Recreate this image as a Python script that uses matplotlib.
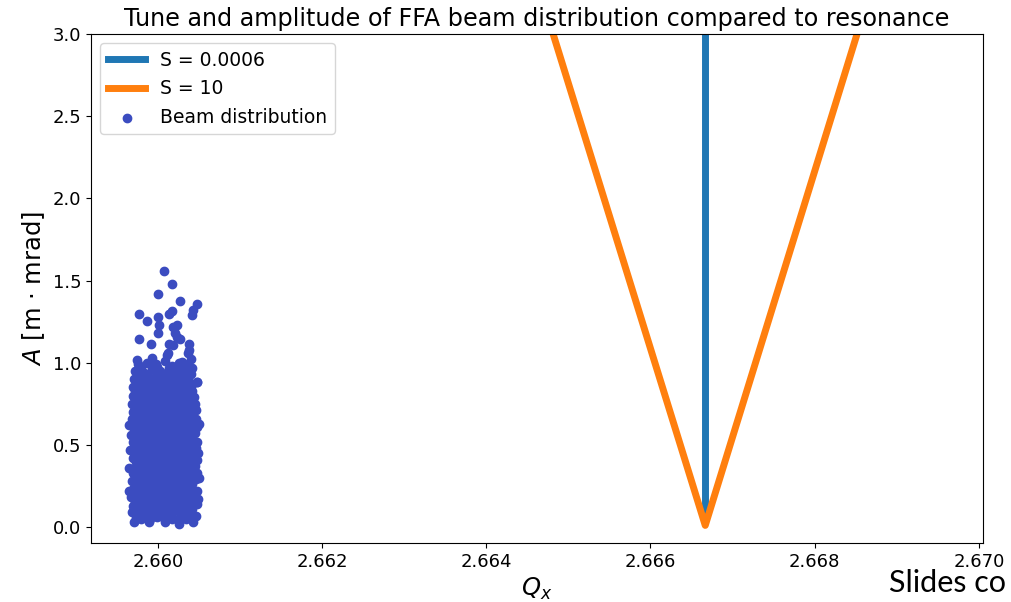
import matplotlib
matplotlib.use("Agg")
import matplotlib.pyplot as plt
from matplotlib.ticker import FormatStrFormatter, MultipleLocator

# Resonance lines (tune Q_x vs. amplitude A)
res_weak_q = [2.666667, 2.666667]
res_weak_a = [0.06, 3.2]
res_strong_q = [2.66469, 2.666667, 2.66864]
res_strong_a = [3.2, 0.01, 3.2]

# Beam particles: (Q_x, A)
beam_points = [
    (2.65971, 0.03), (2.65979, 0.05), (2.65989, 0.03), (2.65999, 0.06), (2.66008, 0.03),
    (2.66017, 0.05), (2.66026, 0.02), (2.66034, 0.05), (2.66043, 0.03),
    (2.65973, 0.055), (2.65982, 0.06), (2.65990, 0.05), (2.65998, 0.065), (2.66007, 0.055),
    (2.66015, 0.06), (2.66024, 0.05), (2.66032, 0.065), (2.66041, 0.055),
    (2.65968, 0.09), (2.65976, 0.07), (2.65985, 0.10), (2.65994, 0.08), (2.66003, 0.09),
    (2.66012, 0.07), (2.66020, 0.10), (2.66029, 0.08), (2.66038, 0.09), (2.66046, 0.07),
    (2.65973, 0.105), (2.65981, 0.11), (2.65990, 0.10), (2.65999, 0.115), (2.66007, 0.105),
    (2.66016, 0.10), (2.66024, 0.115), (2.66033, 0.105), (2.66042, 0.11),
    (2.65970, 0.13), (2.65978, 0.14), (2.65987, 0.12), (2.65995, 0.14), (2.66004, 0.13),
    (2.66013, 0.12), (2.66021, 0.14), (2.66030, 0.13), (2.66039, 0.12), (2.66047, 0.14),
    (2.65972, 0.155), (2.65981, 0.16), (2.65989, 0.15), (2.65998, 0.16), (2.66006, 0.155),
    (2.66015, 0.15), (2.66023, 0.16), (2.66032, 0.155), (2.66041, 0.15),
    (2.65967, 0.18), (2.65976, 0.17), (2.65984, 0.19), (2.65993, 0.18), (2.66002, 0.17),
    (2.66010, 0.19), (2.66019, 0.18), (2.66027, 0.17), (2.66036, 0.19), (2.66045, 0.18),
    (2.65973, 0.20), (2.65981, 0.21), (2.65990, 0.205), (2.65999, 0.20), (2.66007, 0.21),
    (2.66016, 0.205), (2.66024, 0.20), (2.66033, 0.21), (2.66042, 0.205),
    (2.65969, 0.23), (2.65977, 0.22), (2.65986, 0.24), (2.65995, 0.22), (2.66003, 0.23),
    (2.66012, 0.24), (2.66020, 0.22), (2.66029, 0.23), (2.66038, 0.24), (2.66048, 0.22),
    (2.65972, 0.255), (2.65980, 0.25), (2.65989, 0.26), (2.65998, 0.255), (2.66006, 0.25),
    (2.66015, 0.26), (2.66023, 0.255), (2.66032, 0.25), (2.66041, 0.26),
    (2.65968, 0.28), (2.65976, 0.27), (2.65985, 0.29), (2.65993, 0.27), (2.66002, 0.28),
    (2.66011, 0.29), (2.66019, 0.27), (2.66028, 0.28), (2.66037, 0.27), (2.66046, 0.29),
    (2.65973, 0.305), (2.65981, 0.30), (2.65990, 0.31), (2.65999, 0.305), (2.66007, 0.30),
    (2.66016, 0.31), (2.66024, 0.305), (2.66033, 0.30), (2.66042, 0.31),
    (2.65970, 0.33), (2.65978, 0.32), (2.65987, 0.34), (2.65996, 0.33), (2.66004, 0.32),
    (2.66013, 0.34), (2.66021, 0.33), (2.66030, 0.32), (2.66039, 0.34), (2.66047, 0.33),
    (2.65972, 0.35), (2.65980, 0.345), (2.65989, 0.355), (2.65998, 0.35), (2.66006, 0.345),
    (2.66015, 0.355), (2.66023, 0.35), (2.66032, 0.345), (2.66041, 0.355),
    (2.65965, 0.36), (2.65975, 0.38), (2.65984, 0.37), (2.65992, 0.38), (2.66001, 0.36),
    (2.66010, 0.38), (2.66018, 0.37), (2.66027, 0.36), (2.66036, 0.38), (2.66045, 0.37),
    (2.65973, 0.395), (2.65981, 0.39), (2.65990, 0.40), (2.65999, 0.395), (2.66007, 0.39),
    (2.66016, 0.40), (2.66024, 0.395), (2.66033, 0.39), (2.66042, 0.40),
    (2.65969, 0.42), (2.65977, 0.41), (2.65986, 0.43), (2.65994, 0.41), (2.66003, 0.42),
    (2.66012, 0.43), (2.66020, 0.41), (2.66029, 0.42), (2.66038, 0.43), (2.66047, 0.41),
    (2.65972, 0.445), (2.65980, 0.44), (2.65989, 0.45), (2.65998, 0.445), (2.66006, 0.44),
    (2.66015, 0.45), (2.66023, 0.445), (2.66032, 0.44), (2.66041, 0.45),
    (2.65968, 0.47), (2.65976, 0.46), (2.65985, 0.48), (2.65993, 0.46), (2.66002, 0.47),
    (2.66011, 0.48), (2.66019, 0.46), (2.66028, 0.47), (2.66037, 0.46), (2.66046, 0.48),
    (2.65973, 0.495), (2.65981, 0.49), (2.65990, 0.50), (2.65999, 0.495), (2.66007, 0.49),
    (2.66016, 0.50), (2.66024, 0.495), (2.66033, 0.49), (2.66042, 0.50),
    (2.65970, 0.52), (2.65978, 0.51), (2.65987, 0.53), (2.65996, 0.52), (2.66004, 0.51),
    (2.66013, 0.53), (2.66021, 0.52), (2.66030, 0.51), (2.66039, 0.53), (2.66047, 0.52),
    (2.65972, 0.54), (2.65980, 0.545), (2.65989, 0.535), (2.65998, 0.545), (2.66006, 0.54),
    (2.66015, 0.535), (2.66023, 0.545), (2.66032, 0.54), (2.66041, 0.535),
    (2.65967, 0.56), (2.65976, 0.57), (2.65984, 0.55), (2.65993, 0.57), (2.66002, 0.56),
    (2.66010, 0.55), (2.66019, 0.57), (2.66027, 0.56), (2.66036, 0.55), (2.66045, 0.57),
    (2.65973, 0.585), (2.65981, 0.59), (2.65990, 0.58), (2.65999, 0.59), (2.66007, 0.585),
    (2.66016, 0.58), (2.66024, 0.59), (2.66033, 0.585), (2.66042, 0.58),
    (2.65969, 0.61), (2.65977, 0.60), (2.65986, 0.62), (2.65995, 0.61), (2.66003, 0.60),
    (2.66012, 0.62), (2.66020, 0.61), (2.66029, 0.60), (2.66038, 0.62), (2.66047, 0.61),
    (2.65972, 0.635), (2.65980, 0.64), (2.65989, 0.63), (2.65998, 0.64), (2.66006, 0.635),
    (2.66015, 0.63), (2.66023, 0.64), (2.66032, 0.635), (2.66041, 0.63),
    (2.65968, 0.66), (2.65976, 0.65), (2.65985, 0.67), (2.65993, 0.66), (2.66002, 0.65),
    (2.66011, 0.67), (2.66019, 0.66), (2.66028, 0.65), (2.66037, 0.67), (2.66046, 0.66),
    (2.65973, 0.68), (2.65981, 0.685), (2.65990, 0.675), (2.65999, 0.685), (2.66007, 0.68),
    (2.66016, 0.675), (2.66024, 0.685), (2.66033, 0.68), (2.66042, 0.675),
    (2.65970, 0.70), (2.65978, 0.71), (2.65987, 0.69), (2.65996, 0.71), (2.66004, 0.70),
    (2.66013, 0.69), (2.66021, 0.71), (2.66030, 0.70), (2.66039, 0.69), (2.66046, 0.71),
    (2.65972, 0.725), (2.65980, 0.73), (2.65989, 0.72), (2.65998, 0.73), (2.66006, 0.725),
    (2.66015, 0.72), (2.66023, 0.73), (2.66032, 0.725), (2.66041, 0.72),
    (2.65968, 0.75), (2.65977, 0.74), (2.65986, 0.76), (2.65994, 0.75), (2.66003, 0.74),
    (2.66012, 0.76), (2.66020, 0.75), (2.66029, 0.74), (2.66038, 0.76), (2.66045, 0.75),
    (2.65973, 0.775), (2.65981, 0.77), (2.65990, 0.78), (2.65999, 0.775), (2.66007, 0.77),
    (2.66016, 0.78), (2.66024, 0.775), (2.66033, 0.77), (2.66042, 0.78),
    (2.65969, 0.80), (2.65978, 0.79), (2.65987, 0.81), (2.65995, 0.80), (2.66004, 0.79),
    (2.66013, 0.81), (2.66021, 0.80), (2.66030, 0.79), (2.66039, 0.81), (2.66044, 0.79),
    (2.65972, 0.825), (2.65980, 0.82), (2.65989, 0.83), (2.65998, 0.825), (2.66006, 0.82),
    (2.66015, 0.83), (2.66023, 0.825), (2.66032, 0.82), (2.66041, 0.83),
    (2.65970, 0.85), (2.65979, 0.84), (2.65988, 0.86), (2.65997, 0.85), (2.66005, 0.84),
    (2.66014, 0.86), (2.66023, 0.85), (2.66032, 0.84), (2.66040, 0.86), (2.66047, 0.88),
    (2.65973, 0.875), (2.65983, 0.87), (2.65994, 0.88), (2.66004, 0.875), (2.66013, 0.87),
    (2.66022, 0.88), (2.66031, 0.875), (2.66041, 0.87),
    (2.65971, 0.90), (2.65980, 0.89), (2.65990, 0.91), (2.66000, 0.89), (2.66009, 0.91),
    (2.66018, 0.90), (2.66027, 0.92), (2.66037, 0.90),
    (2.65975, 0.925), (2.65986, 0.93), (2.65997, 0.92), (2.66007, 0.93), (2.66017, 0.925),
    (2.66030, 0.92), (2.66040, 0.93),
    (2.65972, 0.95), (2.65983, 0.94), (2.65993, 0.96), (2.66003, 0.95), (2.66012, 0.93),
    (2.66022, 0.96), (2.66034, 0.94), (2.66041, 0.97),
    (2.65979, 0.97), (2.65999, 0.975), (2.66014, 0.965), (2.66029, 0.97),
    (2.65976, 0.99), (2.65987, 1.00), (2.65998, 0.99), (2.66008, 1.01), (2.66017, 0.98),
    (2.66026, 1.00), (2.66037, 0.99),
    (2.65965, 0.22), (2.65966, 0.47), (2.65965, 0.62), (2.66050, 0.30),
    (2.66049, 0.45), (2.66050, 0.63), (2.66049, 0.17),
    (2.659741, 1.016), (2.660402, 1.020), (2.659923, 1.027), (2.660106, 1.047),
    (2.660289, 1.006), (2.660369, 1.061), (2.660126, 1.061), (2.660374, 1.077),
    (2.660471, 0.884), (2.659915, 1.114), (2.660138, 1.114), (2.660186, 1.108),
    (2.660381, 1.112), (2.659769, 1.142), (2.660272, 1.142), (2.659996, 1.180),
    (2.660211, 1.183), (2.660228, 1.155), (2.660016, 1.230), (2.660186, 1.220),
    (2.660228, 1.230), (2.659866, 1.254), (2.659996, 1.280), (2.660130, 1.295),
    (2.660174, 1.315), (2.659769, 1.295), (2.660414, 1.290), (2.660430, 1.320),
    (2.660471, 1.355), (2.660272, 1.376), (2.659996, 1.416), (2.660174, 1.480),
    (2.660077, 1.560),
]

beam_q = [p[0] for p in beam_points]
beam_a = [p[1] for p in beam_points]

fig = plt.figure(figsize=(10.12, 6.02), dpi=100)
ax = fig.add_axes([0.0899, 0.098, 0.8814, 0.8455])

beam_color = plt.get_cmap("coolwarm")(0.0)

ax.plot(res_weak_q, res_weak_a, color="#1f77b4", lw=5, label="S = 0.0006")
ax.plot(res_strong_q, res_strong_a, color="#ff7f0e", lw=5, label="S = 10")
ax.scatter(beam_q, beam_a, s=36, color=beam_color, label="Beam distribution", zorder=3)

ax.set_xlim(2.659184, 2.67005)
ax.set_ylim(-0.097, 3.0)
ax.xaxis.set_major_locator(MultipleLocator(0.002))
ax.xaxis.set_major_formatter(FormatStrFormatter("%.3f"))
ax.yaxis.set_major_locator(MultipleLocator(0.5))
ax.yaxis.set_major_formatter(FormatStrFormatter("%.1f"))
ax.tick_params(labelsize=13)

ax.set_xlabel("$Q_x$", fontsize=17.5)
ax.set_ylabel("$A$ [m $\\cdot$ mrad]", fontsize=17.5)
ax.set_title("Tune and amplitude of FFA beam distribution compared to resonance", fontsize=17.2)
ax.legend(loc="upper left", fontsize=13.5)

fig.text(0.994, 0.016, "Slides co", fontsize=22, family="Lato", ha="right", va="baseline")

fig.savefig("out.png", dpi=100)
